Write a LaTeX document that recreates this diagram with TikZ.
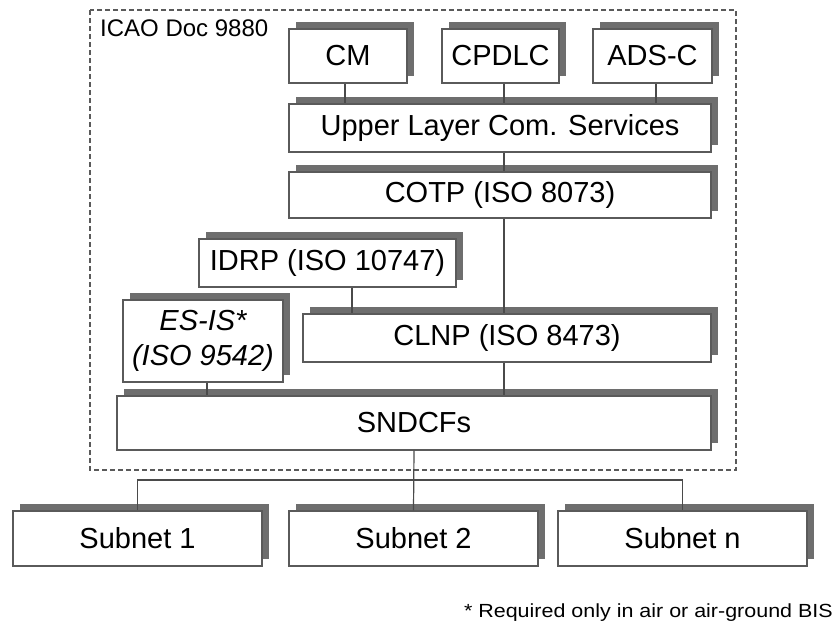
\documentclass[tikz,border=0pt]{standalone}
\usepackage{fontspec}
\usepackage{graphicx}
\setmainfont{Liberation Sans}
\usetikzlibrary{shadows}
\definecolor{shadowgray}{HTML}{6E6E6E}
\definecolor{edgegray}{HTML}{5A5A5A}
\definecolor{linegray}{HTML}{4A4A4A}
\tikzset{
  box/.style={draw=edgegray, line width=1.2pt, fill=white, rectangle, inner sep=0pt,
    align=center, font=\fontsize{29}{35}\selectfont,
    general shadow={fill=shadowgray, shadow xshift=7pt, shadow yshift=7pt}},
  conn/.style={draw=linegray, line width=1.2pt},
  frame/.style={draw=edgegray, line width=1.2pt, dash pattern=on 5pt off 3pt}
}
\begin{document}
\begin{tikzpicture}[x=1pt,y=-1pt]
\useasboundingbox (0,0) rectangle (835,630);
% dashed frame
\draw[frame] (90,10) rectangle (736,470);
\node[anchor=base west, inner sep=0pt, font=\fontsize{24}{28}\selectfont] (title) at (100,36) {ICAO Doc 9880};
% boxes
\node[box, minimum width=118pt, minimum height=54pt] (CM) at (348,56) {CM};
\node[box, minimum width=117pt, minimum height=54pt] (CPDLC) at (500.5,56) {CPDLC};
\node[box, minimum width=119pt, minimum height=54pt] (ADSC) at (652.5,56) {ADS-C};
\node[box, minimum width=422pt, minimum height=48pt] (UL) at (500,128) {Upper Layer Com. Services};
\node[box, minimum width=422pt, minimum height=46pt] (COTP) at (500,195) {COTP (ISO 8073)};
\node[box, minimum width=257pt, minimum height=48pt] (IDRP) at (327.5,263) {IDRP (ISO 10747)};
\node[box, minimum width=160pt, minimum height=82pt] (ESIS) at (203,341) {\itshape ES-IS*\\\itshape (ISO 9542)};
\node[box, minimum width=408pt, minimum height=48pt] (CLNP) at (507,338) {CLNP (ISO 8473)};
\node[box, minimum width=594pt, minimum height=54pt] (SNDCF) at (414,423) {SNDCFs};
\node[box, minimum width=249pt, minimum height=55pt] (S1) at (137.5,538.5) {Subnet 1};
\node[box, minimum width=249pt, minimum height=55pt] (S2) at (413.5,538.5) {Subnet 2};
\node[box, minimum width=249pt, minimum height=55pt] (Sn) at (682.5,538.5) {Subnet n};
% connectors
\draw[conn] ([xshift=-3pt]CM.south) -- ([xshift=-3pt]CM.south |- UL.north);
\draw[conn] ([xshift=3.5pt]CPDLC.south) -- ([xshift=3.5pt]CPDLC.south |- UL.north);
\draw[conn] ([xshift=3.5pt]ADSC.south) -- ([xshift=3.5pt]ADSC.south |- UL.north);
\draw[conn] ([xshift=4pt]UL.south) -- ([xshift=4pt]UL.south |- COTP.north);
\draw[conn] ([xshift=4pt]COTP.south) -- ([xshift=4pt]COTP.south |- CLNP.north);
\draw[conn] ([xshift=24.5pt]IDRP.south) -- ([xshift=24.5pt]IDRP.south |- CLNP.north);
\draw[conn] ([xshift=4pt]ESIS.south) -- ([xshift=4pt]ESIS.south |- SNDCF.north);
\draw[conn] ([xshift=-3pt]CLNP.south) -- ([xshift=-3pt]CLNP.south |- SNDCF.north);
\coordinate (bus) at (414,480);
\draw[conn] (SNDCF.south) -- (S2.north);
\draw[conn] (S1.north) |- (bus) -| (Sn.north);
% footnote
\node[anchor=base east, inner sep=0pt, font=\fontsize{19}{23}\selectfont] (note) at (833,617) {\scalebox{1.13}[1]{* Required only in air or air-ground BIS}};
\end{tikzpicture}
\end{document}
